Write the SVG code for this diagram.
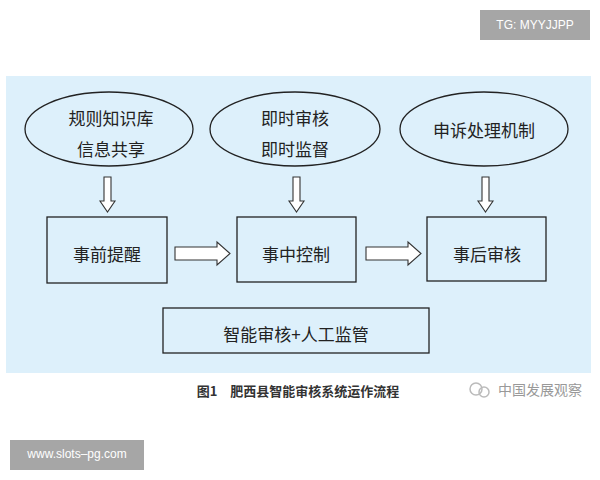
<svg xmlns="http://www.w3.org/2000/svg" width="600" height="480" viewBox="0 0 600 480">
<style>
.t{font-family:"Noto Sans CJK SC","Noto Sans",sans-serif;font-size:17px;fill:#222;text-anchor:middle;dominant-baseline:central}
.s{fill:none;stroke:#222;stroke-width:1.3}
.b{fill:#ddf0fb;stroke:#222;stroke-width:1.3}
.ar{fill:#fff;stroke:#333;stroke-width:1.1}
</style>
<rect width="600" height="480" fill="#fff"/>
<g id="badge-tg"><rect x="480" y="10" width="110" height="30" fill="#a6a6a6"/><text x="535" y="25" font-family="Liberation Sans,sans-serif" font-size="12" fill="#fff" text-anchor="middle" dominant-baseline="central">TG: MYYJJPP</text></g>
<rect x="6" y="76" width="585" height="297" fill="#ddf0fb"/>
<g id="e1"><ellipse cx="109" cy="129" rx="84" ry="37" class="b"/><text class="t" x="111" y="117">规则知识库</text><text class="t" x="111" y="148">信息共享</text></g>
<g id="e2"><ellipse cx="295" cy="129" rx="85" ry="37" class="b"/><text class="t" x="295" y="117">即时审核</text><text class="t" x="295" y="148">即时监督</text></g>
<g id="e3"><ellipse cx="484" cy="129" rx="84" ry="37" class="b"/><text class="t" x="484" y="129">申诉处理机制</text></g>
<g id="n1"><rect x="47" y="217" width="120" height="66" class="b"/><text class="t" x="107" y="253">事前提醒</text></g>
<g id="n2"><rect x="237" y="217" width="119" height="65" class="b"/><text class="t" x="296" y="253">事中控制</text></g>
<g id="n3"><rect x="427" y="217" width="119" height="64" class="b"/><text class="t" x="487" y="253">事后审核</text></g>
<g id="n4"><rect x="163" y="308" width="266" height="45" class="b"/><text class="t" x="296" y="333">智能审核+人工监管</text></g>
<g id="connectors">
<polygon class="ar" points="104,177 111,177 111,201 115,201 107.5,212 100,201 104,201"/>
<polygon class="ar" points="293,177 300,177 300,201 304,201 296.5,212 289,201 293,201"/>
<polygon class="ar" points="482,177 489,177 489,201 493,201 485.5,212 478,201 482,201"/>
<polygon class="ar" points="175,247 217,247 217,242 230,253.5 217,265 217,260 175,260"/>
<polygon class="ar" points="366,247 408,247 408,242 421,253.5 408,265 408,260 366,260"/>
</g>
<text x="298" y="390" font-family="Noto Sans CJK SC,sans-serif" font-size="13" font-weight="bold" fill="#333" text-anchor="middle" dominant-baseline="central">图1　肥西县智能审核系统运作流程</text>
<g id="wm"><circle cx="476" cy="389" r="6" fill="none" stroke="#bbb" stroke-width="1.5"/><circle cx="484" cy="392" r="5" fill="none" stroke="#bbb" stroke-width="1.5"/><text x="540" y="389" font-family="Noto Sans CJK SC,sans-serif" font-size="14" fill="#999" text-anchor="middle" dominant-baseline="central">中国发展观察</text></g>
<g id="badge-www"><rect x="10" y="440" width="134" height="30" fill="#a6a6a6"/><text x="77" y="454" font-family="Liberation Sans,sans-serif" font-size="12" fill="#fff" text-anchor="middle" dominant-baseline="central">www.slots–pg.com</text></g>
</svg>
